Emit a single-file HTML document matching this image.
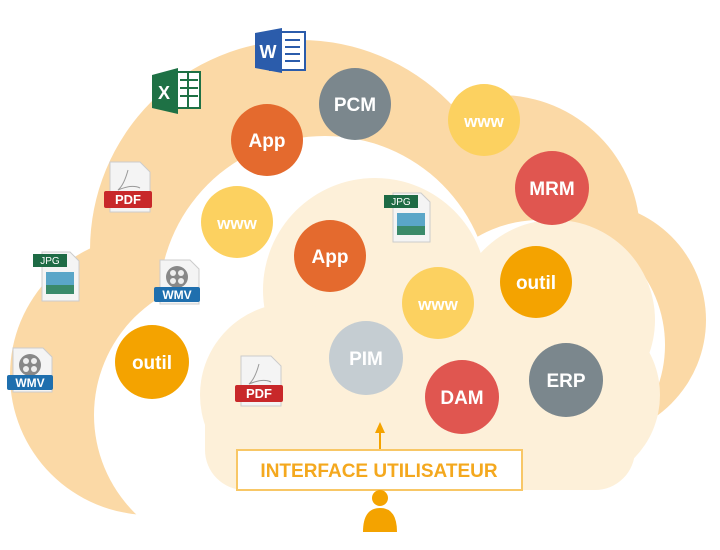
<!DOCTYPE html><html><head><style>body{margin:0;background:#fff}svg{display:block}text{font-family:"Liberation Sans",sans-serif}</style></head><body>
<svg width="720" height="550" viewBox="0 0 720 550">
<g fill="#fbd9a6">
<circle cx="300" cy="250" r="210"/><circle cx="150" cy="375" r="140"/><circle cx="500" cy="235" r="140"/><circle cx="588" cy="320" r="118"/>
</g>
<g fill="#fff">
<circle cx="325" cy="302" r="166"/><circle cx="232" cy="415" r="138"/><circle cx="540" cy="345" r="125"/>
<rect x="150" y="480" width="560" height="70"/>
</g>
<g fill="#fdf0d9">
<circle cx="375" cy="290" r="112"/><circle cx="292" cy="395" r="92"/><circle cx="555" cy="320" r="100"/><circle cx="570" cy="395" r="90"/>
<rect x="205" y="340" width="430" height="150" rx="40"/>
</g>
<g font-weight="bold" font-size="19" fill="#fff" text-anchor="middle">
<circle cx="267" cy="140" r="36" fill="#e46a2e"/><text x="267" y="147">App</text>
<circle cx="355" cy="104" r="36" fill="#7b878d"/><text x="355" y="111">PCM</text>
<circle cx="484" cy="120" r="36" fill="#fcd160"/><text x="484" y="127" font-size="17">www</text>
<circle cx="552" cy="188" r="37" fill="#e05650"/><text x="552" y="195">MRM</text>
<circle cx="237" cy="222" r="36" fill="#fcd160"/><text x="237" y="229" font-size="17">www</text>
<circle cx="330" cy="256" r="36" fill="#e46a2e"/><text x="330" y="263">App</text>
<circle cx="536" cy="282" r="36" fill="#f4a300"/><text x="536" y="289">outil</text>
<circle cx="438" cy="303" r="36" fill="#fcd160"/><text x="438" y="310" font-size="17">www</text>
<circle cx="152" cy="362" r="37" fill="#f4a300"/><text x="152" y="369">outil</text>
<circle cx="366" cy="358" r="37" fill="#c5cdd2"/><text x="366" y="365">PIM</text>
<circle cx="462" cy="397" r="37" fill="#e05650"/><text x="462" y="404">DAM</text>
<circle cx="566" cy="380" r="37" fill="#7b878d"/><text x="566" y="387">ERP</text>
</g>
<rect x="270" y="32" width="35" height="38" fill="#fff" stroke="#2b5cab" stroke-width="2"/>
<g stroke="#2b5cab" stroke-width="2"><line x1="285" y1="40" x2="300" y2="40"/><line x1="285" y1="47" x2="300" y2="47"/><line x1="285" y1="54" x2="300" y2="54"/><line x1="285" y1="61" x2="300" y2="61"/></g>
<polygon points="255,33 282,28 282,73 255,68" fill="#2b5cab"/><text x="268" y="58" fill="#fff" font-weight="bold" font-size="18" text-anchor="middle">W</text>
<rect x="170" y="72" width="30" height="36" fill="#fff" stroke="#1e7145" stroke-width="2"/>
<g stroke="#1e7145" stroke-width="2"><line x1="180" y1="80" x2="198" y2="80"/><line x1="180" y1="88" x2="198" y2="88"/><line x1="180" y1="96" x2="198" y2="96"/><line x1="188" y1="72" x2="188" y2="108"/></g>
<polygon points="152,75 178,68 178,114 152,108" fill="#1e7145"/><text x="164" y="99" fill="#fff" font-weight="bold" font-size="18" text-anchor="middle">X</text>
<g id="pdf"><path d="M110,162 h30 l10,10 v40 h-40z" fill="#f4f4f4" stroke="#ccc"/><path d="M128,170 q-4,15 -10,20 q14,-6 22,-2" fill="none" stroke="#999"/><rect x="104" y="191" width="48" height="17" rx="2" fill="#c8282a"/><text x="128" y="204" fill="#fff" font-weight="bold" font-size="13" text-anchor="middle">PDF</text></g>
<use href="#pdf" transform="translate(131,194)"/>
<g id="jpg"><path d="M42,252 h28 l9,9 v40 h-37z" fill="#f4f4f4" stroke="#ccc"/><rect x="46" y="272" width="28" height="22" fill="#5aa6c8"/><rect x="46" y="285" width="28" height="9" fill="#3a8a6a"/><rect x="33" y="254" width="34" height="13" fill="#1e6b45"/><text x="50" y="264" fill="#fff" font-size="10" text-anchor="middle">JPG</text></g>
<use href="#jpg" transform="translate(351,-59)"/>
<g id="wmv"><path d="M160,260 h30 l9,9 v35 h-39z" fill="#f4f4f4" stroke="#ccc"/><circle cx="177" cy="277" r="11" fill="#888"/><circle cx="173" cy="273" r="3" fill="#eee"/><circle cx="181" cy="273" r="3" fill="#eee"/><circle cx="173" cy="281" r="3" fill="#eee"/><circle cx="181" cy="281" r="3" fill="#eee"/><rect x="154" y="287" width="46" height="15" rx="2" fill="#1f6fae"/><text x="177" y="299" fill="#fff" font-weight="bold" font-size="12" text-anchor="middle">WMV</text></g>
<use href="#wmv" transform="translate(-147,88)"/>
<rect x="237" y="450" width="285" height="40" fill="#fff" stroke="#f8c766" stroke-width="2"/>
<text x="379" y="477" fill="#f4a81e" font-weight="bold" font-size="19" text-anchor="middle">INTERFACE UTILISATEUR</text>
<line x1="380" y1="449" x2="380" y2="432" stroke="#f4a300" stroke-width="2"/>
<polygon points="375,433 385,433 380,422" fill="#f4a300"/>
<circle cx="380" cy="498" r="8" fill="#f4a300"/>
<path d="M363,532 q0,-24 17,-24 q17,0 17,24z" fill="#f4a300"/>
</svg></body></html>
